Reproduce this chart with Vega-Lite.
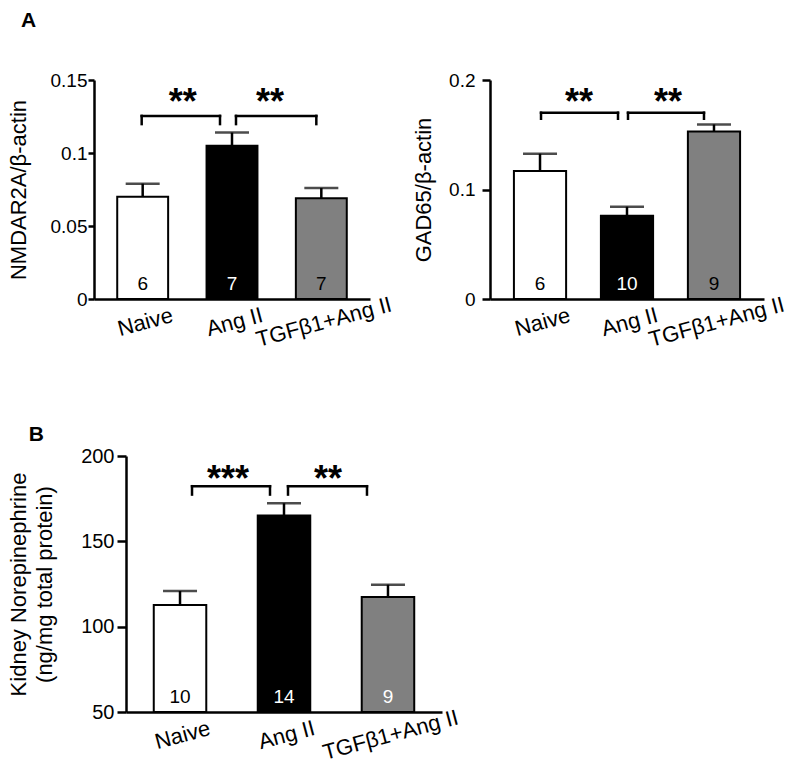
{
  "$schema": "https://vega.github.io/schema/vega-lite/v6.json",
  "padding": {"left": 7, "top": 10, "right": 5, "bottom": 5},
  "config": {
    "font": "Liberation Sans",
    "view": {"stroke": null},
    "axis": {"domainColor": "black", "domainWidth": 2.5, "tickColor": "black", "tickWidth": 2.5, "labelColor": "black", "titleColor": "black", "grid": false, "labelFont": "Liberation Sans", "titleFont": "Liberation Sans", "titleFontWeight": "normal", "titleFontSize": 22},
    "axisY": {"tickSize": 6, "labelPadding": 1, "titlePadding": 20, "labelFontSize": 19},
    "axisX": {"labelAngle": -15, "labelAlign": "center", "labelBaseline": "top", "labelPadding": 13, "labelFontSize": 22, "ticks": false},
    "title": {"font": "Liberation Sans", "color": "black"}
  },
  "datasets": {
    "a1": [
      {"group": "Naive", "mean": 0.070, "upper": 0.079, "n": "6"},
      {"group": "Ang II", "mean": 0.105, "upper": 0.114, "n": "7"},
      {"group": "TGFβ1+Ang II", "mean": 0.069, "upper": 0.076, "n": "7"}
    ],
    "a1br": [
      {"k": 1, "from": "Naive", "to": "Ang II", "top": 0.1254, "end": 0.1198, "label": "**"},
      {"k": 2, "from": "Ang II", "to": "TGFβ1+Ang II", "top": 0.1254, "end": 0.1198, "label": "**"}
    ],
    "a2": [
      {"group": "Naive", "mean": 0.117, "upper": 0.1327, "n": "6"},
      {"group": "Ang II", "mean": 0.0761, "upper": 0.0843, "n": "10"},
      {"group": "TGFβ1+Ang II", "mean": 0.153, "upper": 0.1594, "n": "9"}
    ],
    "a2br": [
      {"k": 1, "from": "Naive", "to": "Ang II", "top": 0.1701, "end": 0.1646, "label": "**"},
      {"k": 2, "from": "Ang II", "to": "TGFβ1+Ang II", "top": 0.1701, "end": 0.1646, "label": "**"}
    ],
    "b": [
      {"group": "Naive", "mean": 112.7, "upper": 120.9, "n": "10"},
      {"group": "Ang II", "mean": 165.2, "upper": 172.3, "n": "14"},
      {"group": "TGFβ1+Ang II", "mean": 117.4, "upper": 124.6, "n": "9"}
    ],
    "bbr": [
      {"k": 1, "from": "Naive", "to": "Ang II", "top": 182.3, "end": 177.4, "label": "***"},
      {"k": 2, "from": "Ang II", "to": "TGFβ1+Ang II", "top": 182.3, "end": 177.4, "label": "**"}
    ]
  },
  "columns": 1,
  "align": "none",
  "spacing": 73,
  "concat": [
    {
      "title": {"text": "A", "anchor": "start", "fontSize": 21, "fontWeight": "bold", "offset": 40, "dx": 14},
      "spacing": 18,
      "hconcat": [
        {
          "width": 276, "height": 219,
          "layer": [
            {"data": {"name": "a1"}, "mark": {"type": "bar", "stroke": "black", "strokeWidth": 2},
             "encoding": {
               "x": {"field": "group", "type": "nominal", "sort": null, "title": null, "scale": {"domain": ["Naive", "Ang II", "TGFβ1+Ang II"], "paddingInner": 0.43, "paddingOuter": 0.26}},
               "y": {"field": "mean", "type": "quantitative", "title": "NMDAR2A/β-actin", "scale": {"domain": [0, 0.15], "nice": false}, "axis": {"values": [0, 0.05, 0.1, 0.15], "format": "~g"}},
               "fill": {"field": "group", "type": "nominal", "scale": {"domain": ["Naive", "Ang II", "TGFβ1+Ang II"], "range": ["#ffffff", "#000000", "#808080"]}, "legend": null}}},
            {"data": {"name": "a1"}, "mark": {"type": "rule", "strokeWidth": 2.5, "color": "black"},
             "encoding": {"x": {"field": "group", "type": "nominal", "sort": null, "title": null}, "y": {"field": "mean", "type": "quantitative", "title": "NMDAR2A/β-actin"}, "y2": {"field": "upper"}}},
            {"data": {"name": "a1"}, "mark": {"type": "tick", "orient": "horizontal", "size": 34, "thickness": 2.5, "color": "black"},
             "encoding": {"x": {"field": "group", "type": "nominal", "sort": null, "title": null}, "y": {"field": "upper", "type": "quantitative", "title": "NMDAR2A/β-actin"}}},
            {"data": {"name": "a1"}, "mark": {"type": "text", "fontSize": 19, "dy": -9, "baseline": "alphabetic"},
             "encoding": {"x": {"field": "group", "type": "nominal", "sort": null, "title": null}, "y": {"datum": 0}, "text": {"field": "n"},
               "color": {"condition": {"test": "datum.group === 'Ang II'", "value": "white"}, "value": "black"}}},
            {"data": {"name": "a1br"}, "transform": [{"filter": "datum.k == 1"}],
             "layer": [
               {"mark": {"type": "rule", "strokeWidth": 2.5, "color": "black", "strokeCap": "square", "xOffset": -1, "x2Offset": -12}, "encoding": {"x": {"field": "from", "type": "nominal", "title": null}, "x2": {"field": "to"}, "y": {"field": "top", "type": "quantitative", "title": "NMDAR2A/β-actin"}}},
               {"mark": {"type": "rule", "strokeWidth": 2.5, "color": "black", "strokeCap": "square", "xOffset": -1}, "encoding": {"x": {"field": "from", "type": "nominal", "title": null}, "y": {"field": "top", "type": "quantitative", "title": "NMDAR2A/β-actin"}, "y2": {"field": "end"}}},
               {"mark": {"type": "rule", "strokeWidth": 2.5, "color": "black", "strokeCap": "square", "xOffset": -12}, "encoding": {"x": {"field": "to", "type": "nominal", "title": null}, "y": {"field": "top", "type": "quantitative", "title": "NMDAR2A/β-actin"}, "y2": {"field": "end"}}},
               {"mark": {"type": "text", "fontSize": 36, "fontWeight": "bold", "dx": 40, "dy": -2, "baseline": "alphabetic"}, "encoding": {"x": {"field": "from", "type": "nominal", "title": null}, "y": {"field": "top", "type": "quantitative", "title": "NMDAR2A/β-actin"}, "text": {"field": "label"}}}
             ]},
            {"data": {"name": "a1br"}, "transform": [{"filter": "datum.k == 2"}],
             "layer": [
               {"mark": {"type": "rule", "strokeWidth": 2.5, "color": "black", "strokeCap": "square", "xOffset": 4, "x2Offset": -5}, "encoding": {"x": {"field": "from", "type": "nominal", "title": null}, "x2": {"field": "to"}, "y": {"field": "top", "type": "quantitative", "title": "NMDAR2A/β-actin"}}},
               {"mark": {"type": "rule", "strokeWidth": 2.5, "color": "black", "strokeCap": "square", "xOffset": 4}, "encoding": {"x": {"field": "from", "type": "nominal", "title": null}, "y": {"field": "top", "type": "quantitative", "title": "NMDAR2A/β-actin"}, "y2": {"field": "end"}}},
               {"mark": {"type": "rule", "strokeWidth": 2.5, "color": "black", "strokeCap": "square", "xOffset": -5}, "encoding": {"x": {"field": "to", "type": "nominal", "title": null}, "y": {"field": "top", "type": "quantitative", "title": "NMDAR2A/β-actin"}, "y2": {"field": "end"}}},
               {"mark": {"type": "text", "fontSize": 36, "fontWeight": "bold", "dx": 38, "dy": -2, "baseline": "alphabetic"}, "encoding": {"x": {"field": "from", "type": "nominal", "title": null}, "y": {"field": "top", "type": "quantitative", "title": "NMDAR2A/β-actin"}, "text": {"field": "label"}}}
             ]}
          ]
        },
        {
          "width": 274, "height": 219,
          "layer": [
            {"data": {"name": "a2"}, "mark": {"type": "bar", "stroke": "black", "strokeWidth": 2},
             "encoding": {
               "x": {"field": "group", "type": "nominal", "sort": null, "title": null, "scale": {"domain": ["Naive", "Ang II", "TGFβ1+Ang II"], "paddingInner": 0.40, "paddingOuter": 0.275}},
               "y": {"field": "mean", "type": "quantitative", "title": "GAD65/β-actin", "scale": {"domain": [0, 0.2], "nice": false}, "axis": {"values": [0, 0.1, 0.2], "format": "~g", "tickSize": 8, "labelPadding": 7, "titlePadding": 13}},
               "fill": {"field": "group", "type": "nominal", "scale": {"domain": ["Naive", "Ang II", "TGFβ1+Ang II"], "range": ["#ffffff", "#000000", "#808080"]}, "legend": null}}},
            {"data": {"name": "a2"}, "mark": {"type": "rule", "strokeWidth": 2.5, "color": "black"},
             "encoding": {"x": {"field": "group", "type": "nominal", "sort": null, "title": null}, "y": {"field": "mean", "type": "quantitative", "title": "GAD65/β-actin"}, "y2": {"field": "upper"}}},
            {"data": {"name": "a2"}, "mark": {"type": "tick", "orient": "horizontal", "size": 34, "thickness": 2.5, "color": "black"},
             "encoding": {"x": {"field": "group", "type": "nominal", "sort": null, "title": null}, "y": {"field": "upper", "type": "quantitative", "title": "GAD65/β-actin"}}},
            {"data": {"name": "a2"}, "mark": {"type": "text", "fontSize": 19, "dy": -9, "baseline": "alphabetic"},
             "encoding": {"x": {"field": "group", "type": "nominal", "sort": null, "title": null}, "y": {"datum": 0}, "text": {"field": "n"},
               "color": {"condition": {"test": "datum.group === 'Ang II'", "value": "white"}, "value": "black"}}},
            {"data": {"name": "a2br"}, "transform": [{"filter": "datum.k == 1"}],
             "layer": [
               {"mark": {"type": "rule", "strokeWidth": 2.5, "color": "black", "strokeCap": "square", "xOffset": 1, "x2Offset": -9}, "encoding": {"x": {"field": "from", "type": "nominal", "title": null}, "x2": {"field": "to"}, "y": {"field": "top", "type": "quantitative", "title": "GAD65/β-actin"}}},
               {"mark": {"type": "rule", "strokeWidth": 2.5, "color": "black", "strokeCap": "square", "xOffset": 1}, "encoding": {"x": {"field": "from", "type": "nominal", "title": null}, "y": {"field": "top", "type": "quantitative", "title": "GAD65/β-actin"}, "y2": {"field": "end"}}},
               {"mark": {"type": "rule", "strokeWidth": 2.5, "color": "black", "strokeCap": "square", "xOffset": -9}, "encoding": {"x": {"field": "to", "type": "nominal", "title": null}, "y": {"field": "top", "type": "quantitative", "title": "GAD65/β-actin"}, "y2": {"field": "end"}}},
               {"mark": {"type": "text", "fontSize": 36, "fontWeight": "bold", "dx": 39, "dy": 1, "baseline": "alphabetic"}, "encoding": {"x": {"field": "from", "type": "nominal", "title": null}, "y": {"field": "top", "type": "quantitative", "title": "GAD65/β-actin"}, "text": {"field": "label"}}}
             ]},
            {"data": {"name": "a2br"}, "transform": [{"filter": "datum.k == 2"}],
             "layer": [
               {"mark": {"type": "rule", "strokeWidth": 2.5, "color": "black", "strokeCap": "square", "xOffset": 1, "x2Offset": -10}, "encoding": {"x": {"field": "from", "type": "nominal", "title": null}, "x2": {"field": "to"}, "y": {"field": "top", "type": "quantitative", "title": "GAD65/β-actin"}}},
               {"mark": {"type": "rule", "strokeWidth": 2.5, "color": "black", "strokeCap": "square", "xOffset": 1}, "encoding": {"x": {"field": "from", "type": "nominal", "title": null}, "y": {"field": "top", "type": "quantitative", "title": "GAD65/β-actin"}, "y2": {"field": "end"}}},
               {"mark": {"type": "rule", "strokeWidth": 2.5, "color": "black", "strokeCap": "square", "xOffset": -10}, "encoding": {"x": {"field": "to", "type": "nominal", "title": null}, "y": {"field": "top", "type": "quantitative", "title": "GAD65/β-actin"}, "y2": {"field": "end"}}},
               {"mark": {"type": "text", "fontSize": 36, "fontWeight": "bold", "dx": 41, "dy": 1, "baseline": "alphabetic"}, "encoding": {"x": {"field": "from", "type": "nominal", "title": null}, "y": {"field": "top", "type": "quantitative", "title": "GAD65/β-actin"}, "text": {"field": "label"}}}
             ]}
          ]
        }
      ]
    },
    {
      "title": {"text": "B", "anchor": "start", "fontSize": 21, "fontWeight": "bold", "offset": 1, "dx": 21},
      "width": 348, "height": 256,
      "layer": [
        {"data": {"name": "b"}, "mark": {"type": "bar", "stroke": "black", "strokeWidth": 2},
         "encoding": {
           "x": {"field": "group", "type": "nominal", "sort": null, "title": null, "scale": {"domain": ["Naive", "Ang II", "TGFβ1+Ang II"], "range": [32, 348], "paddingInner": 0.495, "paddingOuter": 0.267}},
           "y": {"field": "mean", "type": "quantitative", "title": ["Kidney Norepinephrine", "(ng/mg total protein)"], "scale": {"domain": [50, 200], "nice": false, "zero": false}, "axis": {"values": [50, 100, 150, 200], "offset": -32, "titleLineHeight": 26, "labelFontSize": 20, "tickSize": 9, "labelPadding": 3, "titlePadding": 24}},
           "y2": {"datum": 50},
           "fill": {"field": "group", "type": "nominal", "scale": {"domain": ["Naive", "Ang II", "TGFβ1+Ang II"], "range": ["#ffffff", "#000000", "#808080"]}, "legend": null}}},
        {"data": {"name": "b"}, "mark": {"type": "rule", "strokeWidth": 2.5, "color": "black"},
         "encoding": {"x": {"field": "group", "type": "nominal", "sort": null, "title": null}, "y": {"field": "mean", "type": "quantitative", "title": ["Kidney Norepinephrine", "(ng/mg total protein)"]}, "y2": {"field": "upper"}}},
        {"data": {"name": "b"}, "mark": {"type": "tick", "orient": "horizontal", "size": 34, "thickness": 2.5, "color": "black"},
         "encoding": {"x": {"field": "group", "type": "nominal", "sort": null, "title": null}, "y": {"field": "upper", "type": "quantitative", "title": ["Kidney Norepinephrine", "(ng/mg total protein)"]}}},
        {"data": {"name": "b"}, "mark": {"type": "text", "fontSize": 19, "dy": -9, "baseline": "alphabetic"},
         "encoding": {"x": {"field": "group", "type": "nominal", "sort": null, "title": null}, "y": {"datum": 50}, "text": {"field": "n"},
           "color": {"condition": {"test": "datum.group !== 'Naive'", "value": "white"}, "value": "black"}}},
        {"data": {"name": "bbr"}, "transform": [{"filter": "datum.k == 1"}],
         "layer": [
           {"mark": {"type": "rule", "strokeWidth": 2.5, "color": "black", "strokeCap": "square", "xOffset": 12, "x2Offset": -14}, "encoding": {"x": {"field": "from", "type": "nominal", "title": null}, "x2": {"field": "to"}, "y": {"field": "top", "type": "quantitative", "title": ["Kidney Norepinephrine", "(ng/mg total protein)"]}}},
           {"mark": {"type": "rule", "strokeWidth": 2.5, "color": "black", "strokeCap": "square", "xOffset": 12}, "encoding": {"x": {"field": "from", "type": "nominal", "title": null}, "y": {"field": "top", "type": "quantitative", "title": ["Kidney Norepinephrine", "(ng/mg total protein)"]}, "y2": {"field": "end"}}},
           {"mark": {"type": "rule", "strokeWidth": 2.5, "color": "black", "strokeCap": "square", "xOffset": -14}, "encoding": {"x": {"field": "to", "type": "nominal", "title": null}, "y": {"field": "top", "type": "quantitative", "title": ["Kidney Norepinephrine", "(ng/mg total protein)"]}, "y2": {"field": "end"}}},
           {"mark": {"type": "text", "fontSize": 36, "fontWeight": "bold", "dx": 48, "dy": 5, "baseline": "alphabetic"}, "encoding": {"x": {"field": "from", "type": "nominal", "title": null}, "y": {"field": "top", "type": "quantitative", "title": ["Kidney Norepinephrine", "(ng/mg total protein)"]}, "text": {"field": "label"}}}
         ]},
        {"data": {"name": "bbr"}, "transform": [{"filter": "datum.k == 2"}],
         "layer": [
           {"mark": {"type": "rule", "strokeWidth": 2.5, "color": "black", "strokeCap": "square", "xOffset": 4, "x2Offset": -21}, "encoding": {"x": {"field": "from", "type": "nominal", "title": null}, "x2": {"field": "to"}, "y": {"field": "top", "type": "quantitative", "title": ["Kidney Norepinephrine", "(ng/mg total protein)"]}}},
           {"mark": {"type": "rule", "strokeWidth": 2.5, "color": "black", "strokeCap": "square", "xOffset": 4}, "encoding": {"x": {"field": "from", "type": "nominal", "title": null}, "y": {"field": "top", "type": "quantitative", "title": ["Kidney Norepinephrine", "(ng/mg total protein)"]}, "y2": {"field": "end"}}},
           {"mark": {"type": "rule", "strokeWidth": 2.5, "color": "black", "strokeCap": "square", "xOffset": -21}, "encoding": {"x": {"field": "to", "type": "nominal", "title": null}, "y": {"field": "top", "type": "quantitative", "title": ["Kidney Norepinephrine", "(ng/mg total protein)"]}, "y2": {"field": "end"}}},
           {"mark": {"type": "text", "fontSize": 36, "fontWeight": "bold", "dx": 44, "dy": 5, "baseline": "alphabetic"}, "encoding": {"x": {"field": "from", "type": "nominal", "title": null}, "y": {"field": "top", "type": "quantitative", "title": ["Kidney Norepinephrine", "(ng/mg total protein)"]}, "text": {"field": "label"}}}
         ]}
      ]
    }
  ]
}
